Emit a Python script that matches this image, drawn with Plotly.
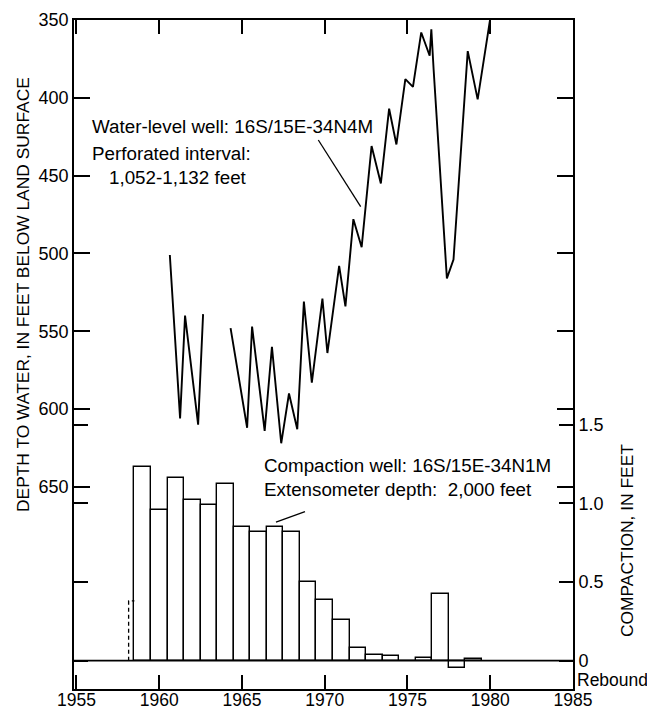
import plotly.graph_objects as go

# ---- Data ----
# Water-level well 16S/15E-34N4M: depth to water (ft below land surface)
wl_year = [1960.64, 1961.26, 1961.56, 1962.35, 1962.65, None,
           1964.31, 1965.31, 1965.61, 1966.37, 1966.81, 1967.37, 1967.84,
           1968.34, 1968.74, 1969.22, 1969.86, 1970.16, 1970.87, 1971.25,
           1971.73, 1972.23, 1972.83, 1973.39, 1973.89, 1974.33, 1974.87,
           1975.33, 1975.83, 1976.34, 1976.44, 1976.58, 1977.38, 1977.78,
           1978.64, 1979.24, 1980.0]
wl_depth = [501, 606, 540, 610, 539, None,
            548, 612, 547, 614, 560, 622, 590,
            613, 531, 583, 529, 564, 508, 534,
            478, 496, 431, 455, 407, 430, 388,
            393, 358, 373, 356, 382, 516, 504,
            370, 401, 349]

# Compaction well 16S/15E-34N1M: annual compaction (ft)
comp_year = [1959, 1960, 1961, 1962, 1963, 1964, 1965, 1966, 1967, 1968,
             1969, 1970, 1971, 1972, 1973, 1974, 1975, 1976, 1977, 1978, 1979]
comp_ft = [1.23, 0.955, 1.16, 1.02, 0.99, 1.12, 0.85, 0.82, 0.85, 0.82,
           0.50, 0.385, 0.26, 0.083, 0.038, 0.03, 0.0, 0.02, 0.426, -0.047, 0.01]

# Partial record, 1958 (dashed)
partial_year = [1958.15, 1958.15, 1958.5]
partial_ft = [0.0, 0.38, 0.38]

year_ticks = [1955, 1960, 1965, 1970, 1975, 1980, 1985]
depth_ticks = [350, 400, 450, 500, 550, 600, 650]
comp_ticks = [0, 0.5, 1.0, 1.5]
comp_tick_text = ["0", "0.5", "1.0", "1.5"]

FONT = "Liberation Sans, Arial, Helvetica, sans-serif"

fig = go.Figure()

fig.add_trace(go.Bar(
    x=comp_year, y=comp_ft, width=1.0, yaxis="y2",
    marker=dict(color="white", line=dict(color="black", width=1.4)),
    showlegend=False, hoverinfo="skip"))

fig.add_trace(go.Scatter(
    x=partial_year, y=partial_ft, yaxis="y2", mode="lines",
    line=dict(color="black", width=1.3, dash="4px,3px"),
    showlegend=False, hoverinfo="skip"))

fig.add_trace(go.Scatter(
    x=wl_year, y=wl_depth, yaxis="y", mode="lines",
    line=dict(color="black", width=1.9), connectgaps=False,
    showlegend=False, hoverinfo="skip"))

axis_common = dict(showgrid=False, zeroline=False, showline=True,
                   linecolor="black", linewidth=1.6, ticks="inside",
                   tickcolor="black", tickwidth=1.5, automargin=False)

tickfont = dict(family=FONT, size=18, color="black")

# page body has an 8px margin, so the figure is sized to fit the window
fig.update_layout(
    width=639, height=703,
    margin=dict(l=66, r=74, t=12, b=22),
    paper_bgcolor="white", plot_bgcolor="white",
    font=dict(family=FONT, color="black"),
    showlegend=False,
    bargap=0,
    xaxis=dict(range=[1954.85, 1985.0], tickvals=year_ticks,
               ticklen=14, mirror="ticks", ticklabelstandoff=-6,
               tickfont=dict(family=FONT, size=17.5, color="black"),
               **axis_common),
    yaxis=dict(range=[779.9, 350], tickvals=depth_ticks,
               ticklen=16, mirror="ticks", tickfont=tickfont, **axis_common),
    yaxis2=dict(range=[-0.180, 4.071], overlaying="y", side="right",
                tickvals=comp_ticks, ticktext=comp_tick_text,
                ticklen=14, mirror="ticks", tickfont=tickfont, **axis_common),
)

# baseline (zero compaction)
fig.add_shape(type="line", xref="paper", x0=0, x1=1, yref="y2", y0=0, y1=0,
              line=dict(color="black", width=1.6), layer="above")

# leader lines
fig.add_shape(type="line", xref="paper", yref="paper",
              x0=0.4896, y0=0.8206, x1=0.5745, y1=0.7209,
              line=dict(color="black", width=1.3))
fig.add_shape(type="line", xref="paper", yref="paper",
              x0=0.4629, y0=0.2653, x1=0.4048, y1=0.2496,
              line=dict(color="black", width=1.3))

def note(text, x, y, size=18.8, **kw):
    fig.add_annotation(text=text, xref="paper", yref="paper", x=x, y=y,
                       xanchor="left", yanchor="middle", showarrow=False,
                       font=dict(family=FONT, size=size, color="black"), **kw)

note("Water-level well: 16S/15E-34N4M", 0.0315, 0.8401)
note("Perforated interval:", 0.0315, 0.8007)
note("1,052-1,132 feet", 0.0667, 0.7643)
note("Compaction well: 16S/15E-34N1M", 0.3774, 0.3348)
note("Extensometer depth:\u00a0\u00a02,000 feet", 0.3774, 0.2975)
note("Rebound", 1.004, 0.0135, size=17.5)

fig.add_annotation(text="DEPTH TO WATER, IN FEET BELOW LAND SURFACE",
                   xref="paper", yref="paper", x=-0.1022, y=0.5889,
                   textangle=-90, showarrow=False,
                   xanchor="center", yanchor="middle",
                   font=dict(family=FONT, size=17.4, color="black"))
fig.add_annotation(text="COMPACTION, IN FEET",
                   xref="paper", yref="paper", x=1.1082, y=0.2227,
                   textangle=-90, showarrow=False,
                   xanchor="center", yanchor="middle",
                   font=dict(family=FONT, size=17.4, color="black"))

fig.write_html("out.html")
